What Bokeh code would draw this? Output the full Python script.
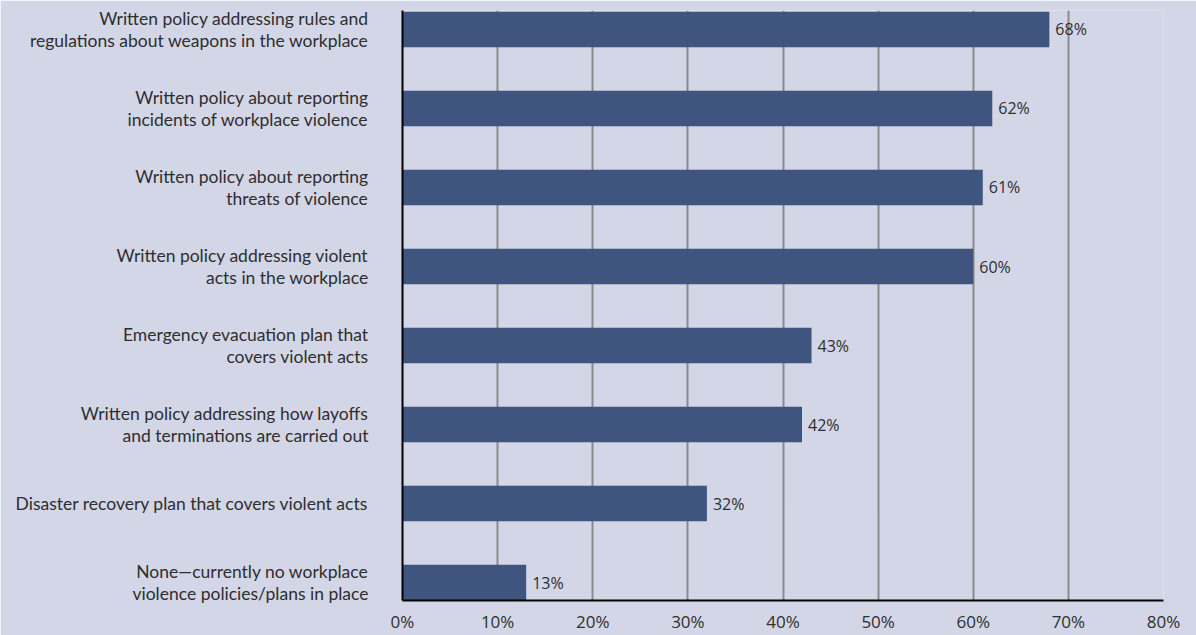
from bokeh.plotting import figure
from bokeh.models import Range1d, FixedTicker, ColumnDataSource, LabelSet
from bokeh.embed import file_html
from bokeh.resources import INLINE
from bokeh.core.properties import value

categories = [
    "Written policy addressing rules and\nregulations about weapons in the workplace",
    "Written policy about reporting\nincidents of workplace violence",
    "Written policy about reporting\nthreats of violence",
    "Written policy addressing violent\nacts in the workplace",
    "Emergency evacuation plan that\ncovers violent acts",
    "Written policy addressing how layoffs\nand terminations are carried out",
    "Disaster recovery plan that covers violent acts",
    "None\u2014currently no workplace\nviolence policies/plans in place",
]
values = [68, 62, 61, 60, 43, 42, 32, 13]
x_ticks = [0, 10, 20, 30, 40, 50, 60, 70, 80]

n = len(categories)
ypos = [n - 1 - i for i in range(n)]
src = ColumnDataSource(dict(y=ypos, v=values, lab=[f"{v}%" for v in values]))

BG = "#D3D6E6"
p = figure(width=1196, height=635, output_backend="svg", toolbar_location=None,
           x_range=Range1d(0, 80), y_range=Range1d(-0.227, n - 1 + 0.24),
           background_fill_color=BG, border_fill_color=BG,
           min_border_left=402, min_border_right=33, min_border_top=10, min_border_bottom=32)
p.outline_line_color = None

p.hbar(y="y", right="v", left=0, height=0.45, source=src, fill_color="#3F5580", line_color=None)

labels = LabelSet(x="v", y="y", text="lab", source=src, x_offset=6, y_offset=0,
                  text_baseline="middle", text_font=value("Open Sans"),
                  text_font_size="16px", text_color="#2E2E2E")
p.add_layout(labels)

p.xaxis.ticker = FixedTicker(ticks=x_ticks)
p.xaxis.major_label_overrides = {t: f"{t}%" for t in x_ticks}
p.xaxis.major_label_text_font = "Open Sans"
p.xaxis.major_label_text_font_size = "17px"
p.xaxis.major_label_text_color = "#2E2E2E"
p.xaxis.major_tick_line_color = None
p.xaxis.minor_tick_line_color = None
p.xaxis.axis_line_color = "black"
p.xaxis.axis_line_width = 2
p.xaxis.major_label_standoff = 3

p.yaxis.ticker = FixedTicker(ticks=ypos)
p.yaxis.major_label_overrides = {y: c for y, c in zip(ypos, categories)}
p.yaxis.major_label_text_font = "Lato"
p.yaxis.major_label_text_font_size = "17.5px"
p.yaxis.major_label_text_line_height = 1.05
p.yaxis.major_label_text_color = "#2E2E2E"
p.yaxis.major_tick_line_color = None
p.yaxis.minor_tick_line_color = None
p.yaxis.axis_line_color = "black"
p.yaxis.axis_line_width = 2
p.yaxis.major_label_standoff = 28

p.xgrid.ticker = FixedTicker(ticks=x_ticks[1:])
p.xgrid.grid_line_color = "#8A8A8A"
p.xgrid.grid_line_width = 2
p.ygrid.grid_line_color = None

open("out.html", "w").write(file_html(p, INLINE))
